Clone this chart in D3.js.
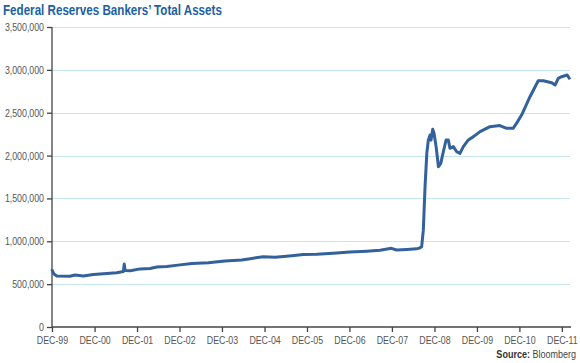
<!DOCTYPE html>
<html>
<head>
<meta charset="utf-8">
<script src="https://cdn.jsdelivr.net/npm/d3@7"></script>
<style>
    body { margin: 0; background: #fff; }
    svg text { font-family: "Liberation Sans", Arial, sans-serif; }
</style>
</head>
<body>
<svg width="580" height="363"></svg>
<script>
// weekly-ish readings of the H.4.1 total assets line (millions USD)
const dates = [
    "1999-12-29", "2000-01-17", "2000-02-10", "2000-06-02", "2000-07-16", "2000-09-26",
    "2000-12-20", "2001-04-16", "2001-07-09", "2001-09-05", "2001-09-12", "2001-09-20",
    "2001-11-03", "2002-01-27", "2002-04-22", "2002-06-19", "2002-09-12", "2002-12-18",
    "2003-04-16", "2003-09-05", "2004-01-26", "2004-06-18", "2004-09-13", "2004-12-19",
    "2005-04-01", "2005-08-22", "2005-11-29", "2006-03-25", "2006-08-14", "2007-01-04",
    "2007-05-27", "2007-09-20", "2007-12-27", "2008-02-09", "2008-05-08", "2008-07-31",
    "2008-08-22", "2008-09-12", "2008-09-26", "2008-10-11", "2008-10-26", "2008-11-08",
    "2008-11-23", "2008-12-01", "2008-12-16", "2008-12-27", "2009-01-14", "2009-02-03",
    "2009-02-23", "2009-03-17", "2009-04-10", "2009-04-29", "2009-05-13", "2009-06-11",
    "2009-07-10", "2009-08-07", "2009-09-05", "2009-10-18", "2009-12-01", "2010-01-27",
    "2010-04-22", "2010-07-16", "2010-09-12", "2010-11-07", "2010-12-06", "2011-01-19",
    "2011-04-01", "2011-06-11", "2011-07-24", "2011-10-05", "2011-11-03", "2011-11-30",
    "2011-12-29", "2012-02-15", "2012-03-09"
];
const assets = [
    672000, 618000, 596000, 592000, 607000, 594000,
    612000, 625000, 634000, 648000, 735000, 660000,
    657000, 678000, 682000, 700000, 705000, 722000,
    740000, 750000, 770000, 782000, 800000, 820000,
    815000, 832000, 845000, 848000, 860000, 875000,
    885000, 895000, 918000, 898000, 905000, 912000,
    920000, 937000, 1130000, 1640000, 2026000, 2180000,
    2240000, 2180000, 2306000, 2260000, 2104000, 1870000,
    1909000, 2045000, 2182000, 2182000, 2085000, 2104000,
    2045000, 2026000, 2104000, 2182000, 2221000, 2279000,
    2337000, 2350000, 2318000, 2318000, 2376000, 2473000,
    2687000, 2873000, 2873000, 2850000, 2823000, 2901000,
    2920000, 2940000, 2890000
];
const yTicks = [0, 500000, 1000000, 1500000, 2000000, 2500000, 3000000, 3500000];
const xTickYears = [1999, 2000, 2001, 2002, 2003, 2004, 2005, 2006, 2007, 2008, 2009, 2010, 2011];

const svg = d3.select("svg"),
    margin = {top: 27, right: 10, bottom: 36, left: 52},
    width = +svg.attr("width") - margin.left - margin.right,
    height = +svg.attr("height") - margin.top - margin.bottom;

const squeeze = 0.8; // the original uses a condensed face

const parse = d3.timeParse("%Y-%m-%d");
const data = dates.map(function (d, i) {
    return {date: parse(d), value: assets[i]};
});

const x = d3.scaleTime()
    .domain([parse("1999-12-31"), parse("2012-03-10")])
    .range([0, width]);

const y = d3.scaleLinear()
    .domain([0, 3500000])
    .range([height, 0]);

const g = svg.append("g")
    .attr("transform", "translate(" + margin.left + "," + margin.top + ")");

// grid
g.append("g")
    .selectAll("line")
    .data(yTicks.slice(1))
    .enter().append("line")
    .attr("x1", 0)
    .attr("x2", width)
    .attr("y1", function (d) { return Math.round(y(d)) + 0.5; })
    .attr("y2", function (d) { return Math.round(y(d)) + 0.5; })
    .attr("stroke", "#c6e6f0")
    .attr("stroke-width", 1);

const fmt = d3.format(",");

const yAxis = g.append("g")
    .call(d3.axisLeft(y).tickValues(yTicks).tickFormat(fmt).tickSize(5).tickPadding(3));

const xAxis = g.append("g")
    .attr("transform", "translate(0," + height + ")")
    .call(d3.axisBottom(x)
        .tickValues(xTickYears.map(function (yr) { return new Date(yr, 11, 31); }))
        .tickFormat(function (d) { return "DEC-" + d3.timeFormat("%y")(d); })
        .tickSize(5).tickPadding(4));

[yAxis, xAxis].forEach(function (a) {
    a.selectAll("path, line").attr("stroke", "#444").attr("stroke-width", 1.3);
    a.selectAll("text")
        .attr("fill", "#555")
        .style("font-size", "11px")
        .attr("transform", "scale(" + squeeze + ",1)");
});
yAxis.selectAll("text").attr("x", -8 / squeeze);
yAxis.select("path.domain").attr("d", "M0," + height + "V0");
xAxis.select("path.domain").attr("d", "M0,0H" + (width + 1));

const line = d3.line()
    .x(function (d) { return x(d.date); })
    .y(function (d) { return y(d.value); });

g.append("path")
    .datum(data)
    .attr("fill", "none")
    .attr("stroke", "#33619b")
    .attr("stroke-width", 3)
    .attr("stroke-linejoin", "round")
    .attr("d", line);

svg.append("text")
    .attr("transform", "translate(3,15) scale(0.83,1)")
    .attr("fill", "#2060a0")
    .style("font-size", "14px")
    .style("font-weight", "bold")
    .text("Federal Reserves Bankers\u2019 Total Assets");

const src = svg.append("text")
    .attr("transform", "translate(576,358) scale(0.82,1)")
    .attr("text-anchor", "end")
    .attr("fill", "#444")
    .style("font-size", "11px");
src.append("tspan").style("font-weight", "bold").attr("fill", "#333").text("Source: ");
src.append("tspan").text("Bloomberg");
</script>
</body>
</html>
